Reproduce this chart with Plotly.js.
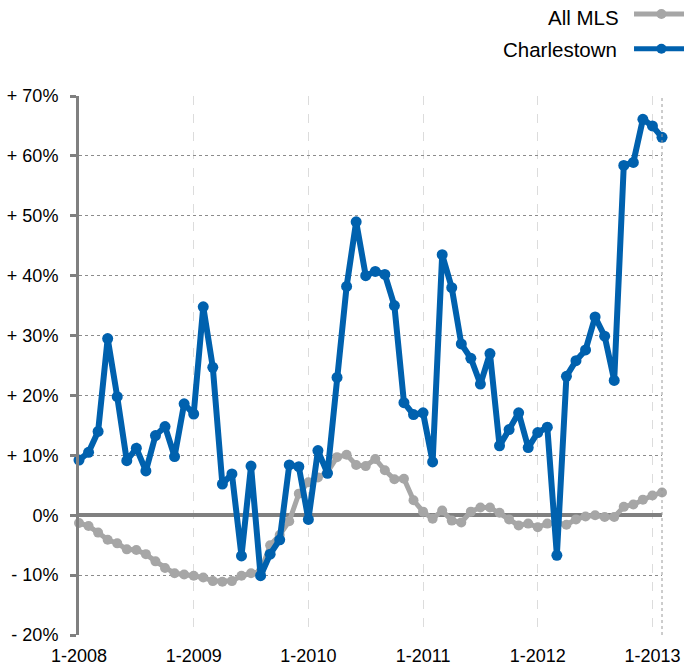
<!DOCTYPE html>
<html>
<head>
<meta charset="utf-8">
<script src="https://cdn.plot.ly/plotly-3.0.1.min.js"></script>
<style>
  html, body { margin: 0; padding: 0; background: #fff; }
  #chart { width: 684px; height: 668px; }
</style>
</head>
<body>
<div id="chart"></div>
<script>
// Months (categories) Jan 2008 .. Feb 2013
const months = [
  "1-2008","2-2008","3-2008","4-2008","5-2008","6-2008","7-2008","8-2008","9-2008","10-2008","11-2008","12-2008",
  "1-2009","2-2009","3-2009","4-2009","5-2009","6-2009","7-2009","8-2009","9-2009","10-2009","11-2009","12-2009",
  "1-2010","2-2010","3-2010","4-2010","5-2010","6-2010","7-2010","8-2010","9-2010","10-2010","11-2010","12-2010",
  "1-2011","2-2011","3-2011","4-2011","5-2011","6-2011","7-2011","8-2011","9-2011","10-2011","11-2011","12-2011",
  "1-2012","2-2012","3-2012","4-2012","5-2012","6-2012","7-2012","8-2012","9-2012","10-2012","11-2012","12-2012",
  "1-2013","2-2013"
];

// All MLS (% change)
const allMLS = [
  -1.3, -1.8, -2.9, -4.1, -4.7, -5.7, -5.8, -6.5, -7.7, -8.8, -9.7, -9.9,
  -10.1, -10.4, -11.0, -11.1, -11.0, -10.1, -9.7, -9.4, -5.0, -3.3, -1.0, 3.6,
  5.5, 6.3, 7.2, 9.7, 10.1, 8.4, 8.2, 9.4, 7.5, 6.0, 6.1, 2.5,
  0.6, -0.6, 0.8, -0.9, -1.2, 0.6, 1.3, 1.3, 0.4, -0.7, -1.7, -1.4,
  -2.0, -1.4, -1.3, -1.6, -0.7, -0.2, 0.0, -0.3, -0.3, 1.4, 1.8, 2.6,
  3.3, 3.8
];

// Charlestown (% change)
const charlestown = [
  9.2, 10.5, 14.0, 29.5, 19.8, 9.1, 11.2, 7.4, 13.3, 14.8, 9.8, 18.6,
  16.9, 34.8, 24.7, 5.2, 6.9, -6.8, 8.2, -10.1, -6.5, -4.1, 8.4, 8.1,
  -0.7, 10.8, 7.0, 23.0, 38.2, 49.0, 40.0, 40.7, 40.2, 35.0, 18.8, 16.8,
  17.1, 8.9, 43.5, 38.0, 28.6, 26.2, 21.9, 27.0, 11.6, 14.3, 17.1, 11.3,
  13.8, 14.7, -6.7, 23.2, 25.8, 27.6, 33.1, 29.9, 22.5, 58.4, 58.9, 66.1,
  65.0, 63.1
];

const xTickVals = ["1-2008","1-2009","1-2010","1-2011","1-2012","1-2013"];
const yTickVals = [-20, -10, 0, 10, 20, 30, 40, 50, 60, 70];
const yTickText = ["- 20%","- 10%","0%","+ 10%","+ 20%","+ 30%","+ 40%","+ 50%","+ 60%","+ 70%"];

const seriesNames = ["All MLS", "Charlestown"];
const grayColor = "#a6a6a6";
const blueColor = "#0061ae";

const traces = [
  {
    x: months, y: allMLS, name: seriesNames[0], type: "scatter", mode: "lines+markers",
    line: { color: grayColor, width: 5 },
    marker: { color: grayColor, size: 10 },
    cliponaxis: false, showlegend: false
  },
  {
    x: months, y: charlestown, name: seriesNames[1], type: "scatter", mode: "lines+markers",
    line: { color: blueColor, width: 6 },
    marker: { color: blueColor, size: 11 },
    cliponaxis: false, showlegend: false
  }
];

const font = "'Liberation Sans', Arial, Helvetica, sans-serif";

const layout = {
  width: 684, height: 668,
  margin: { l: 79, r: 22, t: 96, b: 33 },
  paper_bgcolor: "#fff", plot_bgcolor: "#fff",
  font: { family: font, size: 18, color: "#000" },
  xaxis: {
    type: "category",
    range: [0, 61],
    tickmode: "array", tickvals: xTickVals, ticktext: xTickVals,
    showgrid: true, gridcolor: "#dcdcdc", griddash: "dash", gridwidth: 1,
    showline: false, zeroline: false, ticks: "",
    ticklabelstandoff: 8,
    tickfont: { size: 18, color: "#000" },
    tickangle: 0
  },
  yaxis: {
    range: [-20, 70],
    tickmode: "array", tickvals: yTickVals, ticktext: yTickText,
    showgrid: true, gridcolor: "#8c8c8c", griddash: "dot", gridwidth: 1,
    zeroline: true, zerolinecolor: "#808080", zerolinewidth: 4.5,
    showline: true, linecolor: "#808080", linewidth: 3,
    ticks: "outside", ticklen: 6, tickwidth: 3, tickcolor: "#808080",
    ticklabelstandoff: 8,
    tickfont: { size: 18, color: "#000" }
  },
  shapes: [
    // right plot border (dotted)
    { type: "line", xref: "paper", yref: "paper", x0: 1, x1: 1, y0: 0, y1: 1,
      line: { color: "#9a9a9a", width: 1, dash: "dot" } },
    // legend samples
    { type: "line", xref: "paper", yref: "paper", x0: 0.952, x1: 1.04, y0: 1.152, y1: 1.152,
      line: { color: grayColor, width: 5 } },
    { type: "circle", xref: "paper", yref: "paper", xsizemode: "pixel", ysizemode: "pixel",
      xanchor: 0.999, yanchor: 1.152, x0: -5, x1: 5, y0: -5, y1: 5,
      fillcolor: grayColor, line: { width: 0 } },
    { type: "line", xref: "paper", yref: "paper", x0: 0.952, x1: 1.04, y0: 1.0876, y1: 1.0876,
      line: { color: blueColor, width: 5 } },
    { type: "circle", xref: "paper", yref: "paper", xsizemode: "pixel", ysizemode: "pixel",
      xanchor: 0.999, yanchor: 1.0876, x0: -5, x1: 5, y0: -5, y1: 5,
      fillcolor: blueColor, line: { width: 0 } }
  ],
  annotations: [
    { text: seriesNames[0], xref: "paper", yref: "paper", x: 0.93, y: 1.146,
      xanchor: "right", yanchor: "middle", showarrow: false,
      font: { family: font, size: 20.5, color: "#000" } },
    { text: seriesNames[1], xref: "paper", yref: "paper", x: 0.927, y: 1.086,
      xanchor: "right", yanchor: "middle", showarrow: false,
      font: { family: font, size: 20.5, color: "#000" } }
  ],
  showlegend: false
};

Plotly.newPlot("chart", traces, layout, { displayModeBar: false, staticPlot: true });
</script>
</body>
</html>
